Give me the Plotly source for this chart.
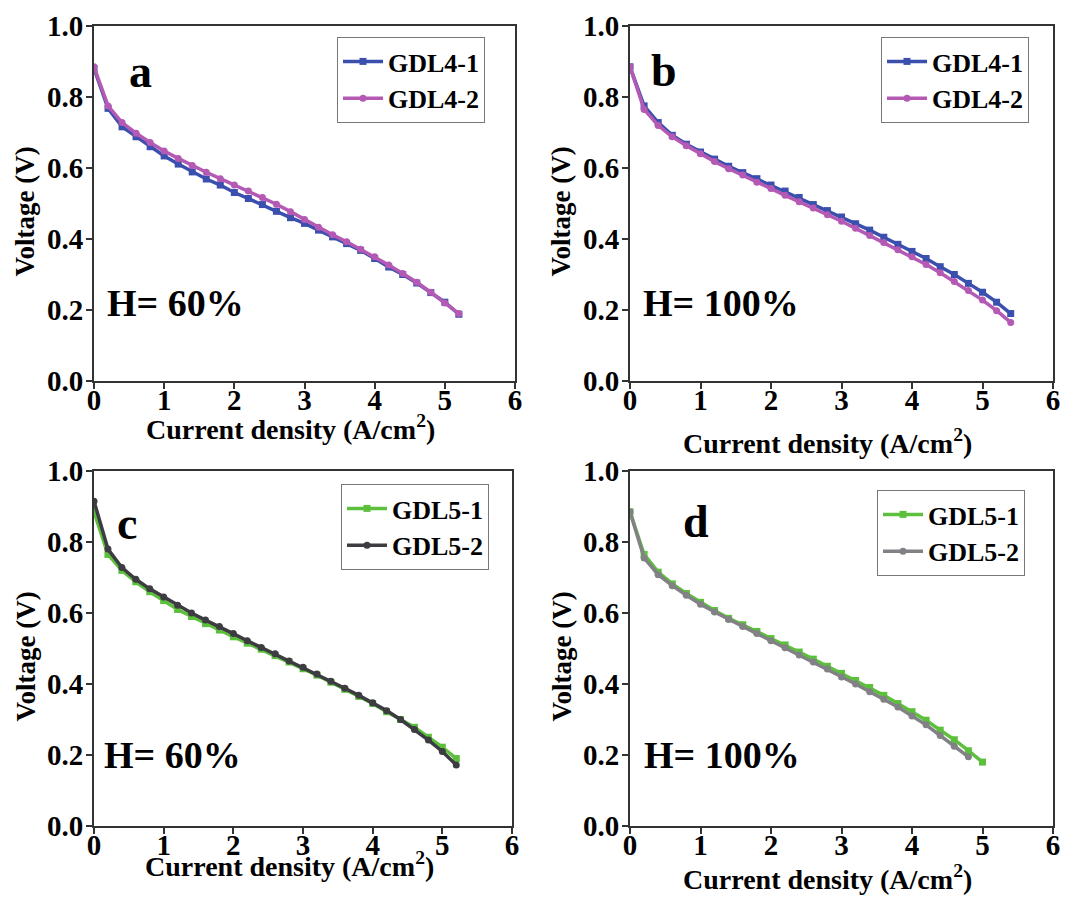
import plotly.graph_objects as go
from plotly.subplots import make_subplots

# ---------------- data ----------------
x_a = [0, 0.2, 0.4, 0.6, 0.8, 1.0, 1.2, 1.4, 1.6, 1.8, 2.0, 2.2, 2.4, 2.6, 2.8,
       3.0, 3.2, 3.4, 3.6, 3.8, 4.0, 4.2, 4.4, 4.6, 4.8, 5.0, 5.2]
gdl41_a = [0.88, 0.768, 0.716, 0.688, 0.66, 0.634, 0.611, 0.589, 0.569, 0.552, 0.531,
           0.514, 0.497, 0.478, 0.46, 0.444, 0.425, 0.406, 0.387, 0.368, 0.345,
           0.321, 0.30, 0.276, 0.249, 0.222, 0.188]
gdl42_a = [0.885, 0.775, 0.728, 0.698, 0.672, 0.648, 0.627, 0.607, 0.588, 0.57, 0.552,
           0.535, 0.517, 0.498, 0.477, 0.455, 0.433, 0.412, 0.392, 0.371, 0.35,
           0.327, 0.303, 0.278, 0.25, 0.22, 0.19]

x_b = [0, 0.2, 0.4, 0.6, 0.8, 1.0, 1.2, 1.4, 1.6, 1.8, 2.0, 2.2, 2.4, 2.6, 2.8,
       3.0, 3.2, 3.4, 3.6, 3.8, 4.0, 4.2, 4.4, 4.6, 4.8, 5.0, 5.2, 5.4]
gdl41_b = [0.885, 0.775, 0.728, 0.692, 0.667, 0.645, 0.625, 0.605, 0.587, 0.57, 0.552,
           0.535, 0.517, 0.497, 0.48, 0.462, 0.443, 0.425, 0.405, 0.385, 0.365,
           0.345, 0.322, 0.30, 0.275, 0.25, 0.222, 0.19]
gdl42_b = [0.885, 0.765, 0.72, 0.688, 0.663, 0.64, 0.618, 0.598, 0.58, 0.56, 0.542,
           0.523, 0.505, 0.487, 0.468, 0.45, 0.43, 0.41, 0.39, 0.37, 0.35,
           0.328, 0.305, 0.28, 0.255, 0.228, 0.198, 0.165]

x_c = [0, 0.2, 0.4, 0.6, 0.8, 1.0, 1.2, 1.4, 1.6, 1.8, 2.0, 2.2, 2.4, 2.6, 2.8,
       3.0, 3.2, 3.4, 3.6, 3.8, 4.0, 4.2, 4.4, 4.6, 4.8, 5.0, 5.2]
gdl51_c = [0.885, 0.765, 0.72, 0.688, 0.66, 0.635, 0.61, 0.59, 0.57, 0.552, 0.533,
           0.515, 0.498, 0.48, 0.462, 0.443, 0.425, 0.405, 0.385, 0.365, 0.345,
           0.322, 0.30, 0.278, 0.25, 0.222, 0.19]
gdl52_c = [0.915, 0.78, 0.728, 0.695, 0.668, 0.645, 0.622, 0.60, 0.58, 0.562, 0.542,
           0.522, 0.503, 0.485, 0.465, 0.447, 0.428, 0.408, 0.388, 0.368, 0.347,
           0.325, 0.30, 0.272, 0.242, 0.21, 0.172]

x_d1 = [0, 0.2, 0.4, 0.6, 0.8, 1.0, 1.2, 1.4, 1.6, 1.8, 2.0, 2.2, 2.4, 2.6, 2.8,
        3.0, 3.2, 3.4, 3.6, 3.8, 4.0, 4.2, 4.4, 4.6, 4.8, 5.0]
gdl51_d = [0.885, 0.765, 0.715, 0.682, 0.655, 0.63, 0.607, 0.585, 0.567, 0.548, 0.528,
           0.51, 0.49, 0.47, 0.45, 0.43, 0.41, 0.39, 0.368, 0.345, 0.322,
           0.298, 0.27, 0.243, 0.212, 0.18]
x_d2 = [0, 0.2, 0.4, 0.6, 0.8, 1.0, 1.2, 1.4, 1.6, 1.8, 2.0, 2.2, 2.4, 2.6, 2.8,
        3.0, 3.2, 3.4, 3.6, 3.8, 4.0, 4.2, 4.4, 4.6, 4.8]
gdl52_d = [0.885, 0.755, 0.708, 0.677, 0.65, 0.625, 0.603, 0.582, 0.562, 0.542, 0.522,
           0.502, 0.482, 0.462, 0.442, 0.42, 0.40, 0.378, 0.357, 0.335, 0.31,
           0.285, 0.255, 0.225, 0.195]

panel_letters = ["a", "b", "c", "d"]
humidity = ["H= 60%", "H= 100%", "H= 60%", "H= 100%"]
x_ticks = [0, 1, 2, 3, 4, 5, 6]
y_ticks = [0.0, 0.2, 0.4, 0.6, 0.8, 1.0]

# ---------------- styling ----------------
BLUE = "#3a4fae"
MAGENTA = "#b45ab4"
GREEN = "#5cc03c"
DARK = "#3c3c42"
GRAY = "#818186"
FONT = "Liberation Serif"

W, H = 1072, 897
def px_x(p): return p / W
def px_y(p): return 1 - p / H

# plot-area pixel boxes: (left, right, top, bottom)
boxes = [(94, 515, 26, 381), (630, 1053, 26, 381),
         (94, 512, 471, 826), (630, 1053, 471, 826)]

fig = make_subplots(rows=2, cols=2)

series = [
    (1, 1, x_a, gdl41_a, "GDL4-1", BLUE, "square", "legend"),
    (1, 1, x_a, gdl42_a, "GDL4-2", MAGENTA, "circle", "legend"),
    (1, 2, x_b, gdl41_b, "GDL4-1", BLUE, "square", "legend2"),
    (1, 2, x_b, gdl42_b, "GDL4-2", MAGENTA, "circle", "legend2"),
    (2, 1, x_c, gdl51_c, "GDL5-1", GREEN, "square", "legend3"),
    (2, 1, x_c, gdl52_c, "GDL5-2", DARK, "circle", "legend3"),
    (2, 2, x_d1, gdl51_d, "GDL5-1", GREEN, "square", "legend4"),
    (2, 2, x_d2, gdl52_d, "GDL5-2", GRAY, "circle", "legend4"),
]
for r, c, xs, ys, name, col, sym, lg in series:
    fig.add_trace(go.Scatter(
        x=xs, y=ys, name=name, mode="lines+markers",
        line=dict(color=col, width=3.5),
        marker=dict(color=col, symbol=sym, size=7),
        legend=lg), row=r, col=c)

axis_font = dict(family=FONT, size=29, color="black", weight="bold")
axnames = [("xaxis", "yaxis"), ("xaxis2", "yaxis2"), ("xaxis3", "yaxis3"), ("xaxis4", "yaxis4")]
for (xa, ya), (l, r_, t, b) in zip(axnames, boxes):
    fig.layout[xa].update(
        domain=[px_x(l), px_x(r_)], range=[0, 6], tickvals=x_ticks,
        showgrid=False, zeroline=False, showline=True, mirror=True,
        linecolor="#333", linewidth=2, ticks="outside", ticklen=6,
        tickwidth=2, tickcolor="#333", tickfont=axis_font, automargin=False,
        ticklabelstandoff=-14)
    fig.layout[ya].update(
        domain=[px_y(b), px_y(t)], range=[0, 1.0], tickvals=y_ticks,
        tickformat=".1f",
        showgrid=False, zeroline=False, showline=True, mirror=True,
        linecolor="#333", linewidth=2, ticks="outside", ticklen=6,
        tickwidth=2, tickcolor="#333", tickfont=axis_font, automargin=False,
        ticklabelstandoff=-3)

# legends
legend_pos = [(337, 37), (881, 37), (341, 484), (877, 490)]
for i, (lx, ly) in enumerate(legend_pos):
    key = "legend" if i == 0 else f"legend{i + 1}"
    fig.layout[key] = dict(
        x=px_x(lx), y=px_y(ly), xanchor="left", yanchor="top",
        bordercolor="#777", borderwidth=1, bgcolor="white",
        font=dict(family=FONT, size=26, color="black", weight="bold"),
        itemwidth=40, tracegroupgap=0)

ann = []
title_font = dict(family=FONT, size=28, color="black", weight="bold")
ytitle_font = dict(family=FONT, size=27, color="black", weight="bold")
xtitle_bottom = [447, 461, 884, 897]
ytitle_x = [25, 561, 25, 561]
for i, (l, r_, t, b) in enumerate(boxes):
    ann.append(dict(text="Current density (A/cm<sup>2</sup>)", x=px_x((l + r_) / 2 - 14),
                    y=px_y(xtitle_bottom[i]), xref="paper", yref="paper",
                    showarrow=False, font=title_font, xanchor="center", yanchor="bottom"))
    ann.append(dict(text="Voltage (V)", x=px_x(ytitle_x[i]), y=px_y((t + b) / 2 + 8),
                    xref="paper", yref="paper", textangle=-90,
                    showarrow=False, font=ytitle_font, xanchor="center", yanchor="middle"))
letter_pos = [(140, 72), (664, 70), (127, 523), (696, 521)]
for i, (lx, ly) in enumerate(letter_pos):
    ann.append(dict(text=panel_letters[i], x=px_x(lx), y=px_y(ly), xref="paper", yref="paper",
                    showarrow=False, xanchor="center", yanchor="middle",
                    font=dict(family=FONT, size=46, color="black", weight="bold")))
hum_pos = [(105, 303), (641, 303), (102, 755), (642, 755)]
for i, (hx, hy) in enumerate(hum_pos):
    ann.append(dict(text=humidity[i], x=px_x(hx), y=px_y(hy), xref="paper", yref="paper",
                    showarrow=False, xanchor="left", yanchor="middle",
                    font=dict(family=FONT, size=38, color="black", weight="bold")))
fig.update_layout(annotations=ann)

fig.update_layout(width=W, height=H, margin=dict(l=0, r=0, t=0, b=0),
                  paper_bgcolor="white", plot_bgcolor="white", showlegend=True)

fig.write_html("out.html")
